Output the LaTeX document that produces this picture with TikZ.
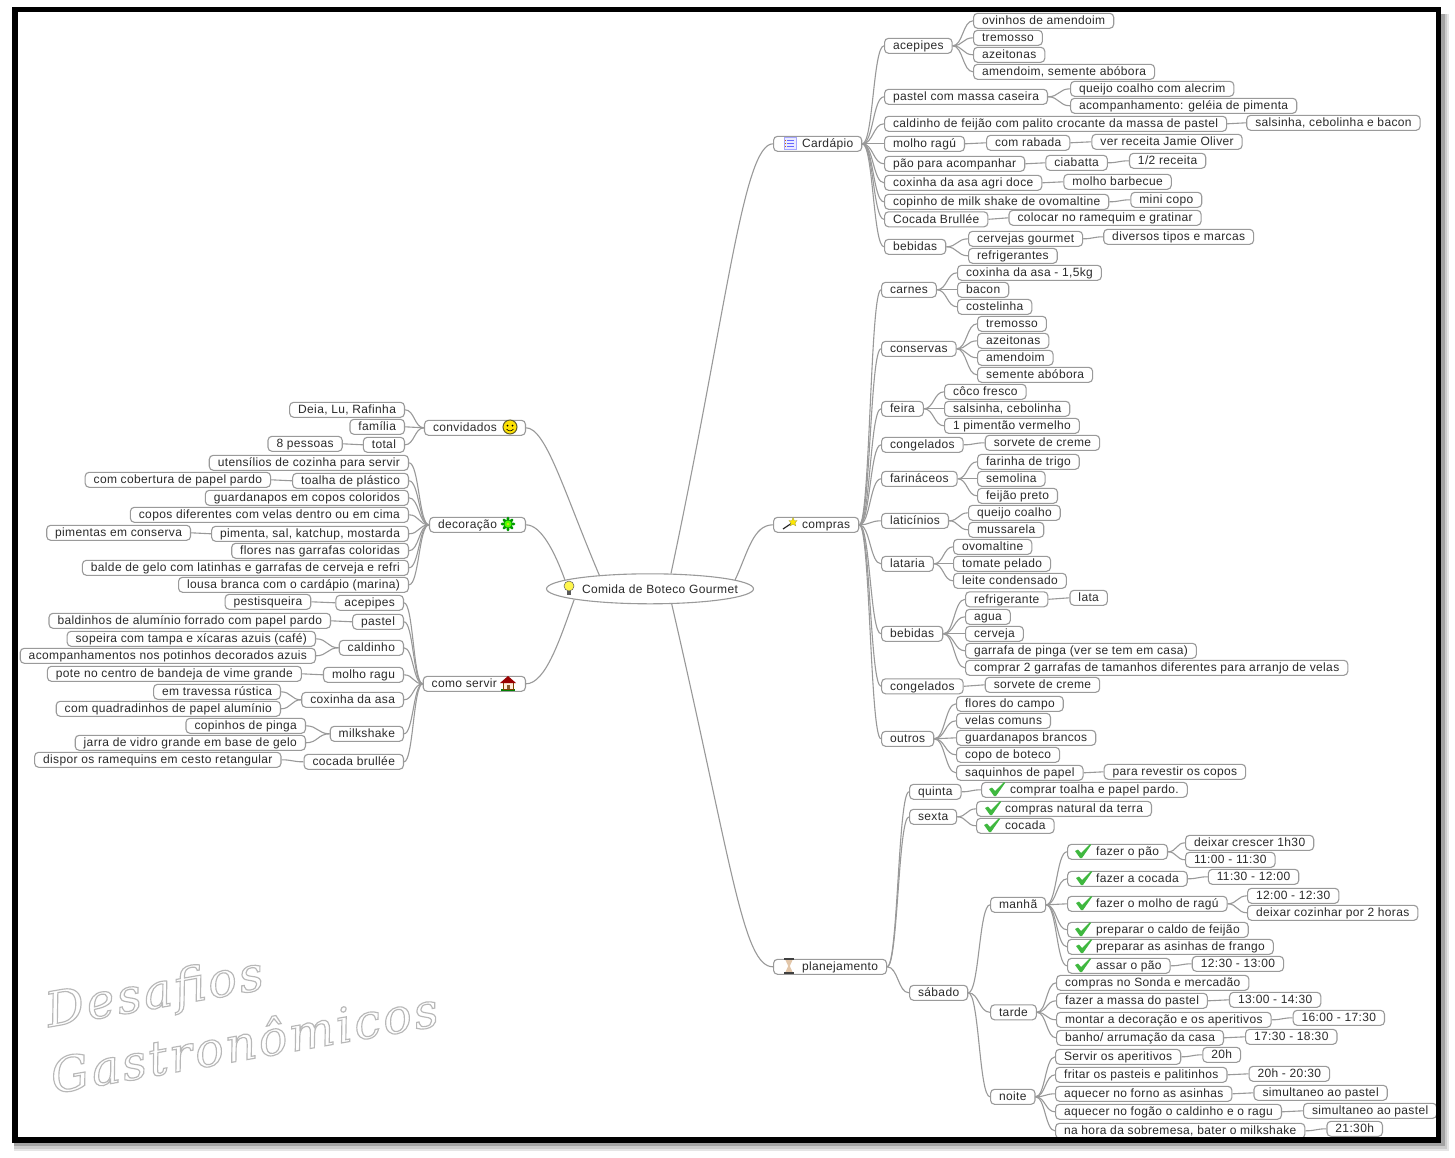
\documentclass[tikz,border=0pt]{standalone}
\usepackage{fontspec}
\usepackage{xcolor}
\setmainfont[LetterSpace=3]{Liberation Sans}
\newfontfamily\wmfont[LetterSpace=5,FakeBold=2.4]{DejaVu Serif}
\usepackage{tikz}
\usetikzlibrary{shapes.geometric,positioning,calc}

\definecolor{boxgray}{HTML}{9A9A9A}
\definecolor{linkgray}{HTML}{999999}
\definecolor{textdark}{HTML}{2A2A2A}
\definecolor{okgreen}{HTML}{3FB83F}
\newcommand{\icongap}{\hspace*{20pt}}
\newcommand{\wmstroke}{\special{pdf:code 0.72 0.72 0.72 RG}}

\tikzset{
    okmark/.pic={\fill [okgreen] (-8,0) -- (-5,-1.5) -- (-2,2) -- (7,-7) -- (8,-6) -- (-1,7) -- (-3,7) -- cycle;},
    bulbicon/.pic={
        \fill [yellow!70!white, draw=gray!70!black, line width=0.5pt] (0,-2) circle (5);
        \fill [gray!70!black] (-2,3) rectangle (2,7);},
    listicon/.pic={
        \fill [blue!8, draw=blue!35, line width=0.6pt] (-6,-6) rectangle (6,6);
        \draw [blue!60, line width=1pt] (-3,-3) -- (4,-3) (-3,0) -- (4,0) (-3,3) -- (4,3);
        \draw [orange!80!black, line width=1pt] (-5,-3) -- (-4,-3) (-5,0) -- (-4,0) (-5,3) -- (-4,3);},
    wandicon/.pic={
        \draw [gray!30!black, line width=1.2pt] (-7,5) -- (2,-1);
        \fill [yellow!90!orange, draw=olive!70, line width=0.4pt] (3,-6.5) -- (4.2,-3.5) -- (7,-3.5) -- (5,-1.2) -- (5.8,1.8) -- (3,0.2) -- (0.2,1.8) -- (1,-1.2) -- (-1,-3.5) -- (1.8,-3.5) -- cycle;},
    glassicon/.pic={
        \fill [brown!45] (-4,-7) -- (4,-7) -- (0.8,0) -- (4,7) -- (-4,7) -- (-0.8,0) -- cycle;
        \draw [gray!50!black, line width=1.2pt] (-5,-7) -- (5,-7) (-5,7) -- (5,7);},
    smileicon/.pic={
        \fill [yellow!85!orange, draw=olive!60!black, line width=1pt] (0,0) circle (7);
        \fill [black] (-2.5,-1.5) circle (1) (2.5,-1.5) circle (1);
        \draw [black, line width=0.6pt] (-3.5,2) .. controls (-1.5,4.5) and (1.5,4.5) .. (3.5,2);},
    flowericon/.pic={
        \draw [green!60!black, line width=2.8pt, line cap=round] (-6,0) -- (6,0) (0,-6) -- (0,6) (-4.2,-4.2) -- (4.2,4.2) (-4.2,4.2) -- (4.2,-4.2);
        \fill [green!70!yellow] (0,0) circle (3.5);
        \fill [yellow!80!green] (0,0) circle (1.5);},
    houseicon/.pic={
        \fill [green!50!black] (-7,6) rectangle (7,7.5);
        \fill [orange!15, draw=orange!50!black, line width=0.4pt] (-5,-1) rectangle (5,6);
        \fill [red!60!black] (0,-7) -- (8,0) -- (-8,0) -- cycle;
        \fill [brown!70!black] (-1.5,2) rectangle (1.5,6);},
}

\begin{document}
\begin{tikzpicture}[
    x=1pt, y=-1pt,
    box/.style={rectangle, draw=boxgray, fill=white, line width=1.1pt, rounded corners=4pt, anchor=west, text=textdark, font=\fontsize{12pt}{14pt}\selectfont, inner xsep=8.5pt, inner ysep=0pt, minimum height=15pt, text height=9.4pt, text depth=1.6pt},
    lbox/.style={box, anchor=east},
    rootbox/.style={ellipse, draw=boxgray, fill=white, line width=1.1pt, inner sep=0pt, minimum width=207pt, minimum height=30pt, text=textdark, font=\fontsize{12pt}{14pt}\selectfont},
    link/.style={draw=linkgray, line width=1.1pt, to path={let \p1=(\tikztostart), \p2=(\tikztotarget), \n1={0.5*(\x2-\x1)} in .. controls (\x1+\n1,\y1) and (\x2-\n1,\y2) .. (\p2)}},
    rootlink/.style={draw=linkgray, line width=1.1pt},
    wmtext/.style={font=\wmfont\itshape\fontsize{48pt}{52pt}\selectfont, rotate=10, text=white}
]
    \useasboundingbox (0,0) rectangle (1455,1157);
    % frame shadow
    \fill [black!10] (14,14) rectangle (1449,1151);
    \fill [black!20] (14,14) rectangle (1447,1149);
    \fill [black!36] (14,14) rectangle (1445,1146);
    \fill [white] (15,9.5) rectangle (1438.5,1140);

    % watermark
    \node [wmtext] (wmone) at (155,995) {\wmstroke Desafios};
    \node [wmtext] (wmtwo) at (244,1041) {\wmstroke Gastronômicos};

    \begin{scope}[yshift=-0.8pt]
    \node [rootbox] (root) at (650,588) {\makebox[0pt]{\icongap Comida de Boteco Gourmet}};

    % right side, cardapio
    \node [box] (cardapio) at (773,143) {\icongap Cardápio};
    \node [box] (acepipes) at (884,45) {acepipes};
    \node [box] (ovinhos) at (973,20) {ovinhos de amendoim};
    \node [box] (tremosso) at (973,37) {tremosso};
    \node [box] (azeitonas) at (973,54) {azeitonas};
    \node [box] (amendoim) at (973,71) {amendoim, semente abóbora};
    \node [box] (pastel) at (884,96) {pastel com massa caseira};
    \node [box] (queijo) at (1070,88) {queijo coalho com alecrim};
    \node [box] (acomp) at (1070,105) {acompanhamento: geléia de pimenta};
    \node [box] (caldinho) at (884,123) {caldinho de feijão com palito crocante da massa de pastel};
    \node [box, right=19pt of caldinho, yshift=1pt] (salsinha) {salsinha, cebolinha e bacon};
    \node [box] (molho) at (884,143) {molho ragú};
    \node [box, right=21pt of molho, yshift=1pt] (rabada) {com rabada};
    \node [box, right=21pt of rabada, yshift=1pt] (jamie) {ver receita Jamie Oliver};
    \node [box] (pao) at (884,163) {pão para acompanhar};
    \node [box, right=20pt of pao, yshift=1pt] (ciabatta) {ciabatta};
    \node [box, right=21pt of ciabatta, yshift=2pt] (receita) {1/2 receita};
    \node [box] (coxinha) at (884,182) {coxinha da asa agri doce};
    \node [box, right=21pt of coxinha, yshift=1pt] (barbecue) {molho barbecue};
    \node [box] (copinho) at (884,201) {copinho de milk shake de ovomaltine};
    \node [box, right=21pt of copinho, yshift=2pt] (minicopo) {mini copo};
    \node [box] (brullee) at (884,218.5) {Cocada Brullée};
    \node [box, right=20pt of brullee, yshift=1.5pt] (ramequim) {colocar no ramequim e gratinar};
    \node [box] (bebidas) at (884,246) {bebidas};
    \node [box] (cervejas) at (968,238) {cervejas gourmet};
    \node [box] (refri) at (968,255) {refrigerantes};
    \node [box, right=20pt of cervejas, yshift=2pt] (marcas) {diversos tipos e marcas};

    % right side, compras
    \node [box] (compras) at (773,524) {\icongap compras};
    \node [box] (carnes) at (881,289) {carnes};
    \node [box] (asa) at (957,272) {coxinha da asa - 1,5kg};
    \node [box] (bacon) at (957,289) {bacon};
    \node [box] (costelinha) at (957,306) {costelinha};
    \node [box] (conservas) at (881,348) {conservas};
    \node [box] (tremossob) at (977,323) {tremosso};
    \node [box] (azeitonasb) at (977,340) {azeitonas};
    \node [box] (amendoimb) at (977,357) {amendoim};
    \node [box] (semente) at (977,374) {semente abóbora};
    \node [box] (feira) at (881,408) {feira};
    \node [box] (coco) at (944,391) {côco fresco};
    \node [box] (cebolinha) at (944,408) {salsinha, cebolinha};
    \node [box] (pimentao) at (944,425) {1 pimentão vermelho};
    \node [box] (congelados) at (881,444) {congelados};
    \node [box, right=21pt of congelados, yshift=2pt] (sorvete) {sorvete de creme};
    \node [box] (farinaceos) at (881,478) {farináceos};
    \node [box] (farinha) at (977,461) {farinha de trigo};
    \node [box] (semolina) at (977,478) {semolina};
    \node [box] (feijao) at (977,495) {feijão preto};
    \node [box] (laticinios) at (881,520) {laticínios};
    \node [box] (coalho) at (968,512) {queijo coalho};
    \node [box] (mussarela) at (968,529) {mussarela};
    \node [box] (lataria) at (881,563) {lataria};
    \node [box] (ovomaltine) at (953,546) {ovomaltine};
    \node [box] (tomate) at (953,563) {tomate pelado};
    \node [box] (leite) at (953,580) {leite condensado};
    \node [box] (bebidasb) at (881,633) {bebidas};
    \node [box] (refrib) at (965,598.5) {refrigerante};
    \node [box, right=21pt of refrib, yshift=1.5pt] (lata) {lata};
    \node [box] (agua) at (965,616) {agua};
    \node [box] (cerveja) at (965,633) {cerveja};
    \node [box] (garrafapinga) at (965,650) {garrafa de pinga (ver se tem em casa)};
    \node [box] (garrafas) at (965,667) {comprar 2 garrafas de tamanhos diferentes para arranjo de velas};
    \node [box] (congeladosb) at (881,685.5) {congelados};
    \node [box, right=21pt of congeladosb, yshift=1.5pt] (sorveteb) {sorvete de creme};
    \node [box] (outros) at (881,738) {outros};
    \node [box] (flores) at (956,703) {flores do campo};
    \node [box] (velas) at (956,720) {velas comuns};
    \node [box] (guardanapos) at (956,737) {guardanapos brancos};
    \node [box] (copo) at (956,754) {copo de boteco};
    \node [box] (saquinhos) at (956,772) {saquinhos de papel};
    \node [box, right=20pt of saquinhos, yshift=1pt] (revestir) {para revestir os copos};

    % right side, planejamento
    \node [box] (planejamento) at (773,966) {\icongap planejamento};
    \node [box] (quinta) at (909,791) {quinta};
    \node [box] (toalha) at (981,789) {\icongap comprar toalha e papel pardo.};
    \node [box] (sexta) at (909,816) {sexta};
    \node [box] (natural) at (976,808) {\icongap compras natural da terra};
    \node [box] (cocada) at (976,825) {\icongap cocada};
    \node [box] (sabado) at (909,992) {sábado};
    \node [box] (manha) at (990,904) {manhã};
    \node [box] (fazerpao) at (1067,851) {\icongap fazer o pão};
    \node [box] (crescer) at (1185,842) {deixar crescer 1h30};
    \node [box] (onze) at (1185,859) {11:00 - 11:30};
    \node [box] (fazercocada) at (1067,878) {\icongap fazer a cocada};
    \node [box, right=20pt of fazercocada, yshift=2pt] (onzemeia) {11:30 - 12:00};
    \node [box] (fazermolho) at (1067,903) {\icongap fazer o molho de ragú};
    \node [box] (doze) at (1247,895) {12:00 - 12:30};
    \node [box] (cozinhar) at (1247,912) {deixar cozinhar por 2 horas};
    \node [box] (caldo) at (1067,929) {\icongap preparar o caldo de feijão};
    \node [box] (asinhas) at (1067,946) {\icongap preparar as asinhas de frango};
    \node [box] (assar) at (1067,965) {\icongap assar o pão};
    \node [box, right=21pt of assar, yshift=2pt] (dozemeia) {12:30 - 13:00};
    \node [box] (tarde) at (990,1011.5) {tarde};
    \node [box] (sonda) at (1056,982) {compras no Sonda e mercadão};
    \node [box] (massa) at (1056,1000) {fazer a massa do pastel};
    \node [box, right=21pt of massa, yshift=1pt] (treze) {13:00 - 14:30};
    \node [box] (montar) at (1056,1019) {montar a decoração e os aperitivos};
    \node [box, right=21pt of montar, yshift=2pt] (dezesseis) {16:00 - 17:30};
    \node [box] (banho) at (1056,1037) {banho/ arrumação da casa};
    \node [box, right=21pt of banho, yshift=1pt] (dezessete) {17:30 - 18:30};
    \node [box] (noite) at (990,1096) {noite};
    \node [box] (servir) at (1055,1056) {Servir os aperitivos};
    \node [box, right=21pt of servir, yshift=2pt] (vinte) {20h};
    \node [box] (fritar) at (1055,1074) {fritar os pasteis e palitinhos};
    \node [box, right=21pt of fritar, yshift=1pt] (vintemeia) {20h - 20:30};
    \node [box] (forno) at (1055,1093) {aquecer no forno as asinhas};
    \node [box, right=21pt of forno, yshift=1pt] (simula) {simultaneo ao pastel};
    \node [box] (fogao) at (1055,1111) {aquecer no fogão o caldinho e o ragu};
    \node [box, right=21pt of fogao, yshift=1pt] (simulb) {simultaneo ao pastel};
    \node [box] (sobremesa) at (1055,1130) {na hora da sobremesa, bater o milkshake};
    \node [box, right=21pt of sobremesa, yshift=2pt] (vinteuma) {21:30h};

    % left side, convidados
    \node [lbox] (convidados) at (526,427) {convidados\icongap};
    \node [lbox] (deia) at (405,409) {Deia, Lu, Rafinha};
    \node [lbox] (familia) at (405,426) {família};
    \node [lbox] (total) at (405,444) {total};
    \node [lbox, left=20pt of total, yshift=1pt] (pessoas) {8 pessoas};

    % left side, decoracao
    \node [lbox] (decoracao) at (526,524) {decoração\icongap};
    \node [lbox] (utensilios) at (409,462) {utensílios de cozinha para servir};
    \node [lbox] (plastico) at (409,480) {toalha de plástico};
    \node [lbox, left=21pt of plastico, yshift=1pt] (cobertura) {com cobertura de papel pardo};
    \node [lbox] (coloridos) at (409,497) {guardanapos em copos coloridos};
    \node [lbox] (diferentes) at (409,514) {copos diferentes com velas dentro ou em cima};
    \node [lbox] (katchup) at (409,533) {pimenta, sal, katchup, mostarda};
    \node [lbox, left=20pt of katchup, yshift=1pt] (conserva) {pimentas em conserva};
    \node [lbox] (garrafasb) at (409,550) {flores nas garrafas coloridas};
    \node [lbox] (balde) at (409,567) {balde de gelo com latinhas e garrafas de cerveja e refri};
    \node [lbox] (lousa) at (409,584) {lousa branca com o cardápio (marina)};

    % left side, como servir
    \node [lbox] (comoservir) at (526,683) {como servir\icongap};
    \node [lbox] (acepipesb) at (404,602) {acepipes};
    \node [lbox, left=24pt of acepipesb, yshift=1pt] (pestisqueira) {pestisqueira};
    \node [lbox] (pastelb) at (404,621) {pastel};
    \node [lbox, left=21pt of pastelb, yshift=1pt] (baldinhos) {baldinhos de alumínio forrado com papel pardo};
    \node [lbox] (caldinhob) at (404,647) {caldinho};
    \node [lbox] (sopeira) at (316,638) {sopeira com tampa e xícaras azuis (café)};
    \node [lbox] (potinhos) at (316,655) {acompanhamentos nos potinhos decorados azuis};
    \node [lbox] (ragu) at (404,674) {molho ragu};
    \node [lbox, left=21pt of ragu, yshift=1pt] (vime) {pote no centro de bandeja de vime grande};
    \node [lbox] (coxinhab) at (404,699) {coxinha da asa};
    \node [lbox] (travessa) at (281,691) {em travessa rústica};
    \node [lbox] (quadradinhos) at (281,708) {com quadradinhos de papel alumínio};
    \node [lbox] (milkshake) at (404,733) {milkshake};
    \node [lbox] (copinhos) at (306,725) {copinhos de pinga};
    \node [lbox] (jarra) at (306,742) {jarra de vidro grande em base de gelo};
    \node [lbox] (brulleeb) at (404,761) {cocada brullée};
    \node [lbox, left=22pt of brulleeb, yshift=2pt] (ramequins) {dispor os ramequins em cesto retangular};
    \end{scope}

    % icons
    \pic at (569,588) {bulbicon};
    \pic at (790,143) {listicon};
    \pic at (790,524) {wandicon};
    \pic at (789,966) {glassicon};
    \pic at (510,427) {smileicon};
    \pic at (508,524) {flowericon};
    \pic at (508,683) {houseicon};
    \pic at (997,789) {okmark};
    \pic at (993,808) {okmark};
    \pic at (992,825) {okmark};
    \pic at (1083,851) {okmark};
    \pic at (1084,878) {okmark};
    \pic at (1084,903) {okmark};
    \pic at (1083,929) {okmark};
    \pic at (1084,946) {okmark};
    \pic at (1083,965) {okmark};

    % connectors from the root
    \draw [rootlink] (root.36) to [out=78, in=180, out distance=270pt, in distance=30pt] (cardapio.west);
    \draw [rootlink] (root.6.5) to [out=65, in=180, out distance=30pt, in distance=20pt] (compras.west);
    \draw [rootlink] (root.-35) to [out=-77, in=180, out distance=270pt, in distance=30pt] (planejamento.west);
    \draw [rootlink] (convidados.east) to [out=0, in=113, out distance=20pt, in distance=90pt] (root.165.3);
    \draw [rootlink] (decoracao.east) to [out=0, in=110, out distance=15pt, in distance=30pt] (root.174);
    \draw [rootlink] (comoservir.east) to [out=0, in=250, out distance=20pt, in distance=40pt] (root.188.5);

    % cardapio
    \draw [link] (cardapio.east) to (acepipes.west);
    \draw [link] (cardapio.east) to (pastel.west);
    \draw [link] (cardapio.east) to (caldinho.west);
    \draw [link] (cardapio.east) to (molho.west);
    \draw [link] (cardapio.east) to (pao.west);
    \draw [link] (cardapio.east) to (coxinha.west);
    \draw [link] (cardapio.east) to (copinho.west);
    \draw [link] (cardapio.east) to (brullee.west);
    \draw [link] (cardapio.east) to (bebidas.west);
    \draw [link] (acepipes.east) to (ovinhos.west);
    \draw [link] (acepipes.east) to (tremosso.west);
    \draw [link] (acepipes.east) to (azeitonas.west);
    \draw [link] (acepipes.east) to (amendoim.west);
    \draw [link] (pastel.east) to (queijo.west);
    \draw [link] (pastel.east) to (acomp.west);
    \draw [link] (caldinho.east) to (salsinha.west);
    \draw [link] (molho.east) to (rabada.west);
    \draw [link] (rabada.east) to (jamie.west);
    \draw [link] (pao.east) to (ciabatta.west);
    \draw [link] (ciabatta.east) to (receita.west);
    \draw [link] (coxinha.east) to (barbecue.west);
    \draw [link] (copinho.east) to (minicopo.west);
    \draw [link] (brullee.east) to (ramequim.west);
    \draw [link] (bebidas.east) to (cervejas.west);
    \draw [link] (bebidas.east) to (refri.west);
    \draw [link] (cervejas.east) to (marcas.west);

    % compras
    \draw [link] (compras.east) to (carnes.west);
    \draw [link] (compras.east) to (conservas.west);
    \draw [link] (compras.east) to (feira.west);
    \draw [link] (compras.east) to (congelados.west);
    \draw [link] (compras.east) to (farinaceos.west);
    \draw [link] (compras.east) to (laticinios.west);
    \draw [link] (compras.east) to (lataria.west);
    \draw [link] (compras.east) to (bebidasb.west);
    \draw [link] (compras.east) to (congeladosb.west);
    \draw [link] (compras.east) to (outros.west);
    \draw [link] (carnes.east) to (asa.west);
    \draw [link] (carnes.east) to (bacon.west);
    \draw [link] (carnes.east) to (costelinha.west);
    \draw [link] (conservas.east) to (tremossob.west);
    \draw [link] (conservas.east) to (azeitonasb.west);
    \draw [link] (conservas.east) to (amendoimb.west);
    \draw [link] (conservas.east) to (semente.west);
    \draw [link] (feira.east) to (coco.west);
    \draw [link] (feira.east) to (cebolinha.west);
    \draw [link] (feira.east) to (pimentao.west);
    \draw [link] (congelados.east) to (sorvete.west);
    \draw [link] (farinaceos.east) to (farinha.west);
    \draw [link] (farinaceos.east) to (semolina.west);
    \draw [link] (farinaceos.east) to (feijao.west);
    \draw [link] (laticinios.east) to (coalho.west);
    \draw [link] (laticinios.east) to (mussarela.west);
    \draw [link] (lataria.east) to (ovomaltine.west);
    \draw [link] (lataria.east) to (tomate.west);
    \draw [link] (lataria.east) to (leite.west);
    \draw [link] (bebidasb.east) to (refrib.west);
    \draw [link] (refrib.east) to (lata.west);
    \draw [link] (bebidasb.east) to (agua.west);
    \draw [link] (bebidasb.east) to (cerveja.west);
    \draw [link] (bebidasb.east) to (garrafapinga.west);
    \draw [link] (bebidasb.east) to (garrafas.west);
    \draw [link] (congeladosb.east) to (sorveteb.west);
    \draw [link] (outros.east) to (flores.west);
    \draw [link] (outros.east) to (velas.west);
    \draw [link] (outros.east) to (guardanapos.west);
    \draw [link] (outros.east) to (copo.west);
    \draw [link] (outros.east) to (saquinhos.west);
    \draw [link] (saquinhos.east) to (revestir.west);

    % planejamento
    \draw [link] (planejamento.east) to (quinta.west);
    \draw [link] (planejamento.east) to (sexta.west);
    \draw [link] (planejamento.east) to (sabado.west);
    \draw [link] (quinta.east) to (toalha.west);
    \draw [link] (sexta.east) to (natural.west);
    \draw [link] (sexta.east) to (cocada.west);
    \draw [link] (sabado.east) to (manha.west);
    \draw [link] (sabado.east) to (tarde.west);
    \draw [link] (sabado.east) to (noite.west);
    \draw [link] (manha.east) to (fazerpao.west);
    \draw [link] (manha.east) to (fazercocada.west);
    \draw [link] (manha.east) to (fazermolho.west);
    \draw [link] (manha.east) to (caldo.west);
    \draw [link] (manha.east) to (asinhas.west);
    \draw [link] (manha.east) to (assar.west);
    \draw [link] (fazerpao.east) to (crescer.west);
    \draw [link] (fazerpao.east) to (onze.west);
    \draw [link] (fazercocada.east) to (onzemeia.west);
    \draw [link] (fazermolho.east) to (doze.west);
    \draw [link] (fazermolho.east) to (cozinhar.west);
    \draw [link] (assar.east) to (dozemeia.west);
    \draw [link] (tarde.east) to (sonda.west);
    \draw [link] (tarde.east) to (massa.west);
    \draw [link] (tarde.east) to (montar.west);
    \draw [link] (tarde.east) to (banho.west);
    \draw [link] (massa.east) to (treze.west);
    \draw [link] (montar.east) to (dezesseis.west);
    \draw [link] (banho.east) to (dezessete.west);
    \draw [link] (noite.east) to (servir.west);
    \draw [link] (noite.east) to (fritar.west);
    \draw [link] (noite.east) to (forno.west);
    \draw [link] (noite.east) to (fogao.west);
    \draw [link] (noite.east) to (sobremesa.west);
    \draw [link] (servir.east) to (vinte.west);
    \draw [link] (fritar.east) to (vintemeia.west);
    \draw [link] (forno.east) to (simula.west);
    \draw [link] (fogao.east) to (simulb.west);
    \draw [link] (sobremesa.east) to (vinteuma.west);

    % convidados
    \draw [link] (convidados.west) to (deia.east);
    \draw [link] (convidados.west) to (familia.east);
    \draw [link] (convidados.west) to (total.east);
    \draw [link] (total.west) to (pessoas.east);

    % decoracao
    \draw [link] (decoracao.west) to (utensilios.east);
    \draw [link] (decoracao.west) to (plastico.east);
    \draw [link] (decoracao.west) to (coloridos.east);
    \draw [link] (decoracao.west) to (diferentes.east);
    \draw [link] (decoracao.west) to (katchup.east);
    \draw [link] (decoracao.west) to (garrafasb.east);
    \draw [link] (decoracao.west) to (balde.east);
    \draw [link] (decoracao.west) to (lousa.east);
    \draw [link] (plastico.west) to (cobertura.east);
    \draw [link] (katchup.west) to (conserva.east);

    % como servir
    \draw [link] (comoservir.west) to (acepipesb.east);
    \draw [link] (comoservir.west) to (pastelb.east);
    \draw [link] (comoservir.west) to (caldinhob.east);
    \draw [link] (comoservir.west) to (ragu.east);
    \draw [link] (comoservir.west) to (coxinhab.east);
    \draw [link] (comoservir.west) to (milkshake.east);
    \draw [link] (comoservir.west) to (brulleeb.east);
    \draw [link] (acepipesb.west) to (pestisqueira.east);
    \draw [link] (pastelb.west) to (baldinhos.east);
    \draw [link] (caldinhob.west) to (sopeira.east);
    \draw [link] (caldinhob.west) to (potinhos.east);
    \draw [link] (ragu.west) to (vime.east);
    \draw [link] (coxinhab.west) to (travessa.east);
    \draw [link] (coxinhab.west) to (quadradinhos.east);
    \draw [link] (milkshake.west) to (copinhos.east);
    \draw [link] (milkshake.west) to (jarra.east);
    \draw [link] (brulleeb.west) to (ramequins.east);

    % frame
    \draw [black, line width=5.8pt] (15,9.5) rectangle (1438.5,1140);
\end{tikzpicture}
\end{document}
